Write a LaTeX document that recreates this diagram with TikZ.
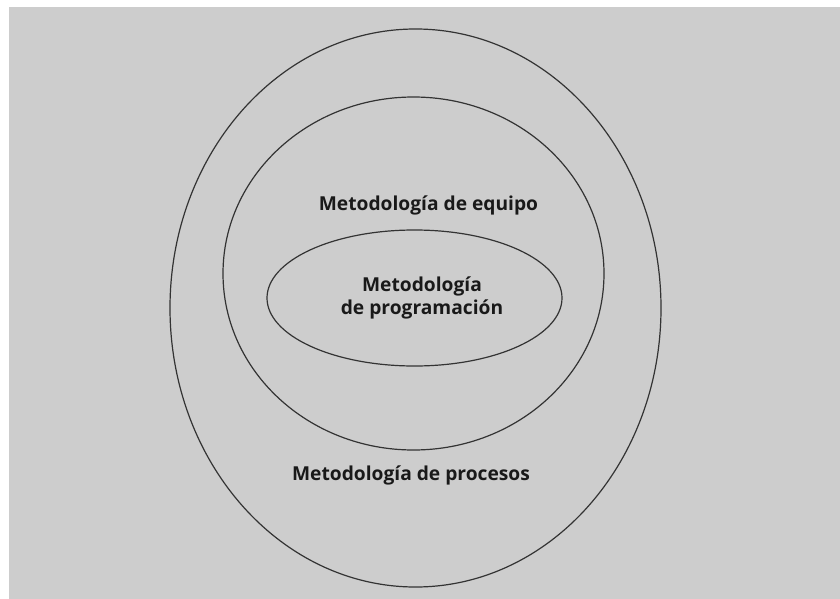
\documentclass[tikz,border=0pt]{standalone}
\usepackage{fontspec}
\setmainfont{Open Sans}
\usetikzlibrary{shapes.geometric}
\definecolor{bggray}{HTML}{CDCDCD}
\definecolor{linegray}{HTML}{333333}

\begin{document}
\begin{tikzpicture}[x=1pt,y=-1pt]
        % Define styles
        \tikzset{
            ring/.style={ellipse, draw=linegray, line width=1.2pt, inner sep=0pt, outer sep=0pt},
            label/.style={font=\bfseries\fontsize{19.2}{23.5}\selectfont, text=black!90, align=center}
        }
        % Canvas and grey backdrop
        \useasboundingbox (0,0) rectangle (840,599);
        \fill[bggray] (9,7) rectangle (840,599);
        % Nested methodologies, outer to inner
        \node[ring, minimum width=491pt, minimum height=558pt] (procesos) at (415.5,308) {};
        \node[ring, minimum width=381pt, minimum height=353pt] (equipo) at (413.5,273.5) {};
        \node[ring, minimum width=295pt, minimum height=136pt] (programacion) at (414.5,298) {};
        % Labels
        \node[label] (lblequipo) at (428.5,205) {Metodología de equipo};
        \node[label] (lblprog) at (422,298) {Metodología\\ de programación};
        \node[label] (lblprocesos) at (411,475) {Metodología de procesos};
    \end{tikzpicture}
\end{document}
